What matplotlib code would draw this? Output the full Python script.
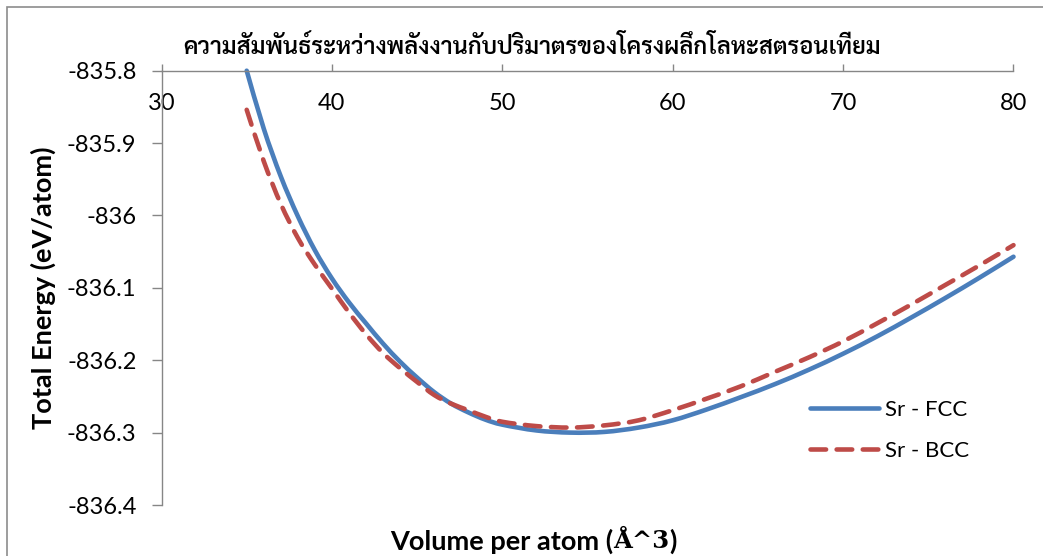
import matplotlib
matplotlib.use("Agg")
import matplotlib.pyplot as plt
from matplotlib.lines import Line2D
from matplotlib.path import Path
from matplotlib.patches import PathPatch, Rectangle

# Volume per atom (Å^3) and total energies (eV/atom)
volume = [35, 36, 37, 38, 39, 40, 41, 42, 43, 44, 45, 46, 47, 48, 49, 50,
          52, 54, 56, 58, 60, 62, 64, 66, 68, 70, 72, 74, 76, 78, 80]
energy_fcc = [-835.800, -835.880, -835.946, -836.001, -836.048, -836.087,
              -836.120, -836.149, -836.177, -836.202, -836.224, -836.244,
              -836.260, -836.272, -836.282, -836.289, -836.297, -836.300,
              -836.299, -836.293, -836.283, -836.268, -836.251, -836.233,
              -836.213, -836.191, -836.167, -836.141, -836.114, -836.086,
              -836.057]
energy_bcc = [-835.854, -835.925, -835.984, -836.031, -836.068, -836.101,
              -836.134, -836.164, -836.190, -836.211, -836.230, -836.248,
              -836.260, -836.269, -836.278, -836.285, -836.291, -836.293,
              -836.290, -836.283, -836.269, -836.253, -836.236, -836.216,
              -836.196, -836.174, -836.149, -836.123, -836.096, -836.069,
              -836.041]
series_labels = ["Sr - FCC", "Sr - BCC"]
x_ticks = [30, 40, 50, 60, 70, 80]
y_ticks = [-835.8, -835.9, -836.0, -836.1, -836.2, -836.3, -836.4]
y_tick_labels = ["-835.8", "-835.9", "-836", "-836.1", "-836.2", "-836.3", "-836.4"]
title = "ความสัมพันธ์ระหว่างพลังงานกับปริมาตรของโครงผลึกโลหะสตรอนเทียม"

SANS = "Lato"
THAI = ["Sarabun", "DejaVu Sans"]
AXIS_GRAY = "#868686"
FCC_COLOR = "#4A7EBB"
BCC_COLOR = "#BE4B48"
LW = 3.3
DASHES = (3.4, 2.3)


def smooth_path(xs, ys):
    """Smoothed line through the points (Catmull-Rom as cubic Bezier)."""
    pts = list(zip(xs, ys))
    n = len(pts)
    verts = [pts[0]]
    codes = [Path.MOVETO]
    for i in range(n - 1):
        p0 = pts[i - 1] if i > 0 else pts[i]
        p1, p2 = pts[i], pts[i + 1]
        p3 = pts[i + 2] if i + 2 < n else pts[i + 1]
        c1 = (p1[0] + (p2[0] - p0[0]) / 6, p1[1] + (p2[1] - p0[1]) / 6)
        c2 = (p2[0] - (p3[0] - p1[0]) / 6, p2[1] - (p3[1] - p1[1]) / 6)
        verts += [c1, c2, p2]
        codes += [Path.CURVE4] * 3
    return Path(verts, codes)


W, H = 1043, 556
fig = plt.figure(figsize=(W / 100, H / 100), dpi=100)
ax = fig.add_axes([161.5 / W, 1 - 505 / H, (1013.5 - 161.5) / W, (505 - 70.7) / H])

ax.add_patch(PathPatch(smooth_path(volume, energy_fcc), fill=False,
                       edgecolor=FCC_COLOR, lw=LW, capstyle="round",
                       joinstyle="round", clip_on=False))
ax.add_patch(PathPatch(smooth_path(volume, energy_bcc), fill=False,
                       edgecolor=BCC_COLOR, lw=LW, linestyle=(0, DASHES),
                       capstyle="round", joinstyle="round", clip_on=False))

ax.set_xlim(30, 80)
ax.set_ylim(-836.4, -835.8)
ax.set_xticks(x_ticks)
ax.set_xticklabels([str(t) for t in x_ticks], fontname=SANS, fontsize=17)
ax.set_yticks(y_ticks)
ax.set_yticklabels(y_tick_labels, fontname=SANS, fontsize=17)

for side in ("right", "bottom"):
    ax.spines[side].set_visible(False)
for side in ("left", "top"):
    ax.spines[side].set_color(AXIS_GRAY)
    ax.spines[side].set_linewidth(1.0)

ax.xaxis.set_ticks_position("top")
ax.tick_params(axis="x", direction="out", length=5, width=1, color=AXIS_GRAY,
               top=True, bottom=False, labeltop=True, labelbottom=False, pad=-36)
ax.tick_params(axis="y", direction="out", length=7, width=1, color=AXIS_GRAY,
               pad=11)

ax.set_ylabel("Total Energy (eV/atom)", fontname=SANS, fontweight="bold",
              fontsize=19.5, labelpad=8)

handles = [Line2D([], [], color=FCC_COLOR, lw=LW, solid_capstyle="round"),
           Line2D([], [], color=BCC_COLOR, lw=LW, dashes=DASHES,
                  dash_capstyle="round")]
fig.legend(handles, series_labels, loc="upper left",
           bbox_to_anchor=(810 / W, 1 - 400 / H),
           bbox_transform=fig.transFigure, frameon=False, borderpad=0,
           borderaxespad=0, handlelength=3.1, handletextpad=0.28,
           labelspacing=0.95, prop={"family": SANS, "size": 16})

fig.text(532 / W, 1 - 47 / H, title, ha="center", va="center",
         family=THAI, fontsize=17, fontweight=600)

# x-axis title: sans part plus serif Å^3
renderer = fig.canvas.get_renderer()
y_lab = 1 - 541 / H
t1 = fig.text(390 / W, y_lab, "Volume per atom (", ha="left", va="center",
              fontname=SANS, fontweight="bold", fontsize=19.5)
bb = t1.get_window_extent(renderer)
t2 = fig.text(bb.x1 / W, y_lab, "Å^3", ha="left", va="center",
              family="DejaVu Serif", fontweight="bold", fontsize=17.5)
bb2 = t2.get_window_extent(renderer)
fig.text(bb2.x1 / W, y_lab, ")", ha="left", va="center",
         fontname=SANS, fontweight="bold", fontsize=19.5)

# outer chart frame
fig.patches.append(Rectangle((7 / W, -0.1), 1.2, 1.1 - 7 / H,
                             transform=fig.transFigure, fill=False,
                             edgecolor="#8c8c8c", lw=1.2))

fig.savefig("out.png", dpi=100)
